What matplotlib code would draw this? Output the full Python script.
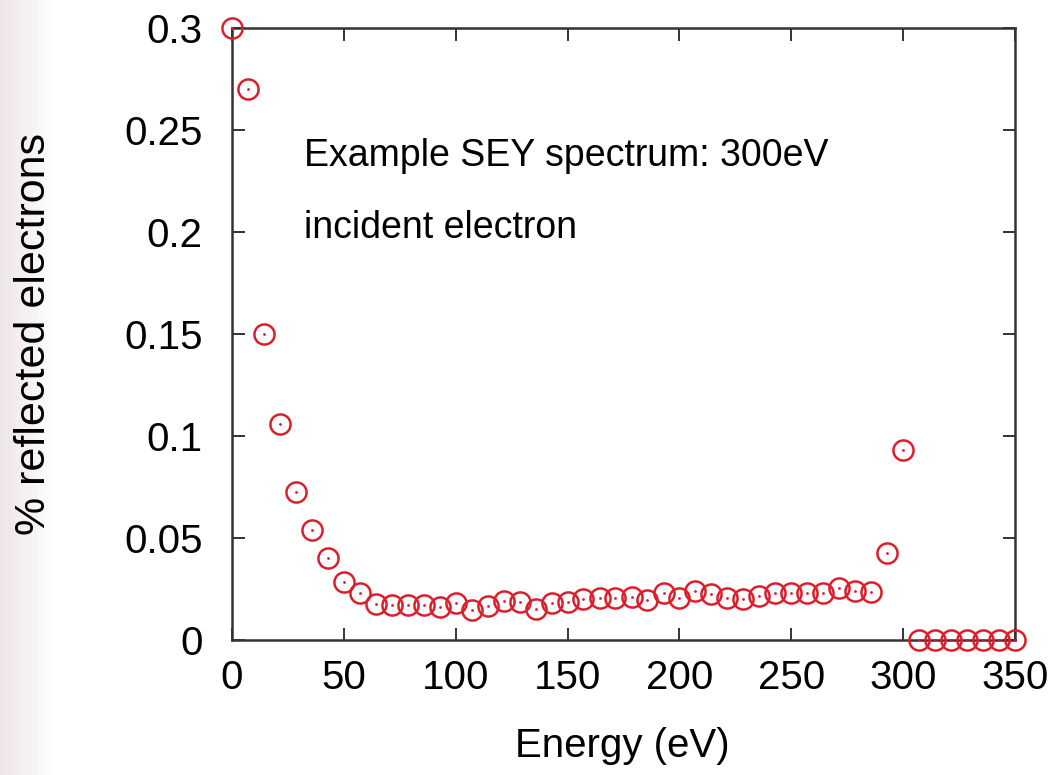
import numpy as np
import matplotlib as mpl
mpl.use('Agg')
import matplotlib.pyplot as plt

plt.rcParams['font.family'] = ['Liberation Sans', 'DejaVu Sans']

# Energy grid (eV) and fraction of reflected electrons
energy = [0.0, 7.1, 14.3, 21.4, 28.6, 35.7, 42.9, 50.0, 57.1, 64.3,
          71.4, 78.6, 85.7, 92.9, 100.0, 107.1, 114.3, 121.4, 128.6, 135.7,
          142.9, 150.0, 157.1, 164.3, 171.4, 178.6, 185.7, 192.9, 200.0, 207.1,
          214.3, 221.4, 228.6, 235.7, 242.9, 250.0, 257.1, 264.3, 271.4, 278.6,
          285.7, 292.9, 300.0, 307.1, 314.3, 321.4, 328.6, 335.7, 342.9, 350.0]
reflected = [0.300, 0.270, 0.150, 0.106, 0.0725, 0.054, 0.040, 0.0286, 0.0229, 0.0175,
             0.0171, 0.0171, 0.0171, 0.0160, 0.0180, 0.0147, 0.0165, 0.0191, 0.0185, 0.0152,
             0.0180, 0.0185, 0.0199, 0.0204, 0.0207, 0.0212, 0.0196, 0.0229, 0.0204, 0.0242,
             0.0224, 0.0204, 0.0201, 0.0214, 0.0232, 0.0229, 0.0232, 0.0232, 0.0256, 0.0240,
             0.0234, 0.0428, 0.0930, 0.0, 0.0, 0.0, 0.0, 0.0, 0.0, 0.0]

xticks = [0, 50, 100, 150, 200, 250, 300, 350]
yticks = [0, 0.05, 0.1, 0.15, 0.2, 0.25, 0.3]
ytick_labels = ['0', '0.05', '0.1', '0.15', '0.2', '0.25', '0.3']

fig = plt.figure(figsize=(10.55, 7.75), dpi=100)

# faint slide background on the left edge
bg = fig.add_axes([0, 0, 1, 1], zorder=-10)
grad = np.ones((10, 200, 3))
xs = np.linspace(0, 1, 200)
fade = np.clip(1 - xs / 0.05, 0, 1)
for c, v in enumerate([0.93, 0.90, 0.91]):
    grad[:, :, c] = 1 - (1 - v) * fade
bg.imshow(grad, aspect='auto', extent=[0, 1, 0, 1])
bg.set_axis_off()

ax = fig.add_axes([0.2199, 0.1742, 0.7422, 0.7897])
red = '#dc1f2c'
ax.plot(energy, reflected, linestyle='none', marker='o', markersize=14.5,
        markerfacecolor='none', markeredgecolor=red, markeredgewidth=1.8,
        clip_on=False, zorder=5)
ax.plot(energy, reflected, linestyle='none', marker='.', markersize=2,
        color=red, clip_on=False, zorder=5)

ax.set_xlim(0, 350)
ax.set_ylim(0, 0.3)
ax.set_xticks(xticks)
ax.set_yticks(yticks)
ax.set_yticklabels(ytick_labels)
ax.tick_params(direction='in', length=9, width=1.4, color='#333333',
               top=True, right=True, labelsize=29)
ax.tick_params(axis='y', pad=21)
ax.tick_params(axis='x', pad=14)
for s in ax.spines.values():
    s.set_linewidth(1.8)
    s.set_color('#333333')

ax.set_xlabel('Energy (eV)', fontsize=29)
ax.xaxis.set_label_coords(0.4987, -0.142)
ax.set_ylabel('% reflected electrons', fontsize=31)
ax.yaxis.set_label_coords(-0.227, 0.5)

ax.text(32.2, 0.2324, 'Example SEY spectrum: 300eV', fontsize=27,
        ha='left', va='baseline')
ax.text(32.2, 0.197, 'incident electron', fontsize=27,
        ha='left', va='baseline')

fig.savefig('out.png', dpi=100)
